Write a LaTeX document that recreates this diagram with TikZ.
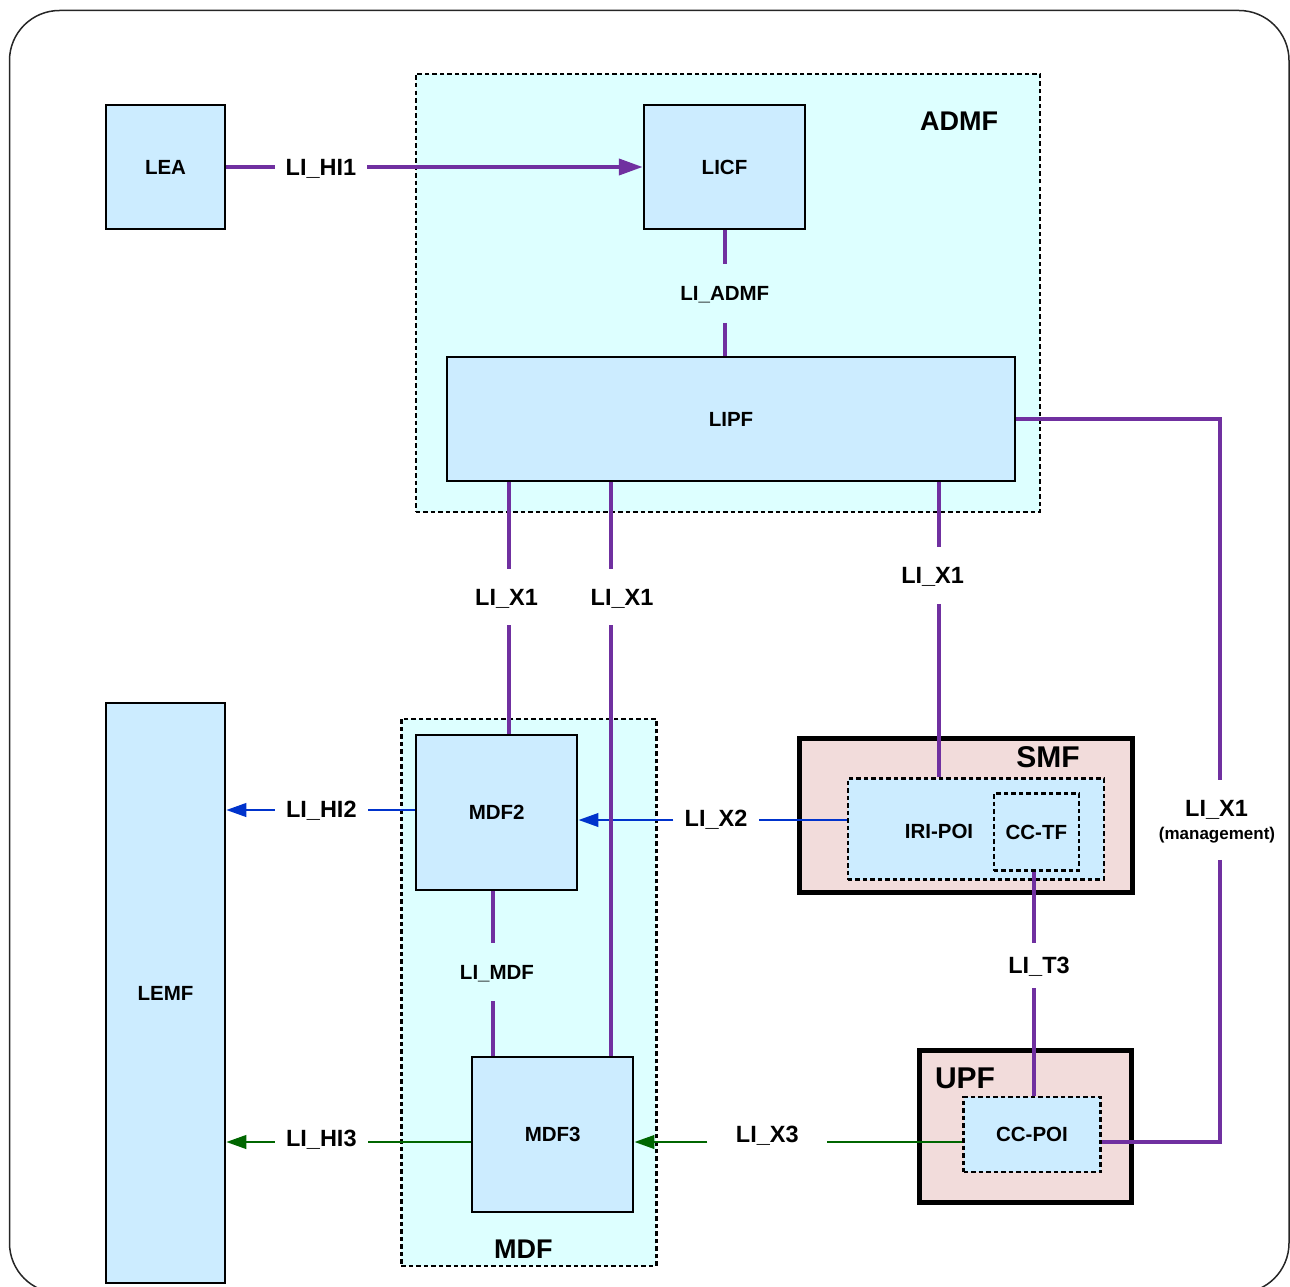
\documentclass[tikz,border=0pt]{standalone}
\usepackage{fontspec}
\setmainfont{Liberation Sans}
\usetikzlibrary{arrows.meta}

\definecolor{lipurple}{HTML}{7030A0}
\definecolor{liblue}{HTML}{0033CC}
\definecolor{ligreen}{HTML}{006600}
\definecolor{fnfill}{HTML}{CCECFF}
\definecolor{grpfill}{HTML}{DDFFFF}
\definecolor{nffill}{HTML}{F2DCDB}

\begin{document}
\begin{tikzpicture}[x=1pt,y=-1pt,>={Triangle[length=20pt,width=13.5pt]},
	fntext/.style={inner sep=0pt, font=\bfseries\fontsize{20.5}{24}\selectfont, text height=14.1pt, text depth=0pt},
	fn/.style={fntext, draw, line width=2.5pt, fill=fnfill},
	poi/.style={fntext, draw, line width=2.5pt, dash pattern=on 4.5pt off 3pt, fill=fnfill},
	grp/.style={draw, line width=2.5pt, dash pattern=on 4.5pt off 3pt, fill=grpfill},
	nf/.style={draw, line width=5pt, fill=nffill},
	title/.style={inner sep=0pt, font=\bfseries\fontsize{27}{30}\selectfont, text height=18.6pt, text depth=0pt},
	bigtitle/.style={inner sep=0pt, font=\bfseries\fontsize{30}{32}\selectfont, text height=20.6pt, text depth=0pt},
	lnk/.style={inner xsep=11pt, inner ysep=20pt, font=\bfseries\fontsize{23.5}{26}\selectfont, text height=16.2pt, text depth=0pt},
	smalllnk/.style={inner xsep=11pt, inner ysep=22pt, font=\bfseries\fontsize{20.5}{24}\selectfont, text height=14.1pt, text depth=0pt},
	x1line/.style={lipurple, line width=4pt},
	x2line/.style={liblue, line width=2.5pt},
	x3line/.style={ligreen, line width=2.5pt}]
	\useasboundingbox (0,0) rectangle (1290,1287);
	\draw[line width=1.5pt, black!85, rounded corners=50pt] (9.5,10.5) rectangle (1289,1293);

	% groups
	\node[grp, minimum width=624pt, minimum height=438pt] (ADMF) at (727.8,293) {};
	\node[title] (ADMFt) at (959,121) {ADMF};
	\node[grp, minimum width=255pt, minimum height=547pt] (MDF) at (528.8,992.3) {};
	\node[title] (MDFt) at (523.3,1249) {MDF};
	\node[nf, minimum width=333pt, minimum height=154pt] (SMF) at (965.8,815.3) {};
	\node[bigtitle] (SMFt) at (1048,757.5) {SMF};
	\node[nf, minimum width=212pt, minimum height=152pt] (UPF) at (1025,1126.3) {};
	\node[bigtitle] (UPFt) at (965,1078) {UPF};

	% functions
	\node[fn, minimum width=119pt, minimum height=124pt] (LEA) at (165.5,167) {LEA};
	\node[fn, minimum width=161pt, minimum height=124pt] (LICF) at (724.5,167) {LICF};
	\node[fn, minimum width=568pt, minimum height=124pt] (LIPF) at (731,419) {LIPF};
	\node[fn, minimum width=161pt, minimum height=155pt] (MDF2) at (496.7,812.3) {MDF2};
	\node[fn, minimum width=161pt, minimum height=155pt] (MDF3) at (552.7,1134.4) {MDF3};
	\node[fn, minimum width=119pt, minimum height=580pt] (LEMF) at (165.5,993) {LEMF};
	\node[poi, minimum width=256pt, minimum height=101pt] (IRIPOI) at (975.8,829.2) {};
	\node[fntext] (IRIPOIt) at (939,831.5) {IRI-POI};
	\node[poi, minimum width=85pt, minimum height=77pt] (CCTF) at (1036.3,832.2) {CC-TF};
	\node[poi, minimum width=137pt, minimum height=75pt] (CCPOI) at (1032,1134.5) {CC-POI};

	% interface labels
	\node[lnk] (HIa) at (321,167) {LI\_HI1};
	\node[lnk] (HIb) at (321.3,809.6) {LI\_HI2};
	\node[lnk] (HIc) at (321.3,1138.5) {LI\_HI3};
	\node[smalllnk] (LADMF) at (724.8,293.5) {LI\_ADMF};
	\node[smalllnk] (LMDF) at (497,972) {LI\_MDF};
	\node[lnk] (X1a) at (506.5,597) {LI\_X1};
	\node[lnk] (X1b) at (622,597) {LI\_X1};
	\node[lnk] (X1c) at (932.6,575.5) {LI\_X1};
	\node[lnk] (X1m) at (1216.5,808.7) {LI\_X1};
	\node[inner xsep=0pt, inner ysep=17pt, font=\bfseries\fontsize{17}{19}\selectfont, text height=12pt, text depth=3.5pt] (X1mgmt) at (1217,835) {(management)};
	\node[lnk] (X2) at (716,818) {LI\_X2};
	\node[lnk, inner xsep=28.5pt] (X3) at (767.3,1134) {LI\_X3};
	\node[lnk, inner ysep=14.5pt] (T3) at (1039,965.3) {LI\_T3};

	% X2 / X3 / HI2 / HI3
	\draw[x2line] (IRIPOI.west |- 0,820) -- (X2.east |- 0,820);
	\draw[x2line, ->] (X2.west |- 0,820) -- (MDF2.east |- 0,820);
	\draw[x2line] (MDF2.west |- 0,810) -- (HIb.east |- 0,810);
	\draw[x2line, ->] (HIb.west |- 0,810) -- (LEMF.east |- 0,810);
	\draw[x3line] (CCPOI.west |- 0,1142) -- (X3.east |- 0,1142);
	\draw[x3line, ->] (X3.west |- 0,1142) -- (MDF3.east |- 0,1142);
	\draw[x3line] (MDF3.west |- 0,1142) -- (HIc.east |- 0,1142);
	\draw[x3line, ->] (HIc.west |- 0,1142) -- (LEMF.east |- 0,1142);

	% HI1, ADMF, MDF, X1, T3
	\draw[x1line] (LEA) -- (HIa);
	\draw[x1line, -{Triangle[length=24pt,width=16pt]}] (HIa) -- (LICF);
	\draw[x1line] (LICF.south -| 724.5,0) -- (LADMF.north -| 724.5,0);
	\draw[x1line] (LADMF.south -| 724.5,0) -- (LIPF.north -| 724.5,0);
	\draw[x1line] (MDF2.south -| 493,0) -- (LMDF.north -| 493,0);
	\draw[x1line] (LMDF.south -| 493,0) -- (MDF3.north -| 493,0);
	\draw[x1line] (LIPF.south -| 509,0) -- (X1a.north -| 509,0);
	\draw[x1line] (X1a.south -| 509,0) -- (MDF2.north -| 509,0);
	\draw[x1line] (LIPF.south -| 611,0) -- (X1b.north -| 611,0);
	\draw[x1line] (X1b.south -| 611,0) -- (MDF3.north -| 611,0);
	\draw[x1line] (LIPF.south -| 939,0) -- (X1c.north -| 939,0);
	\draw[x1line] (X1c.south -| 939,0) -- (IRIPOI.north -| 939,0);
	\draw[x1line] (LIPF.east) -| (X1m.north -| 1220,0);
	\draw[x1line] (X1mgmt.south -| 1220,0) |- (CCPOI.east |- 0,1142);
	\draw[x1line] (CCTF.south -| 1034,0) -- (T3.north -| 1034,0);
	\draw[x1line] (T3.south -| 1034,0) -- (CCPOI.north -| 1034,0);
\end{tikzpicture}
\end{document}
